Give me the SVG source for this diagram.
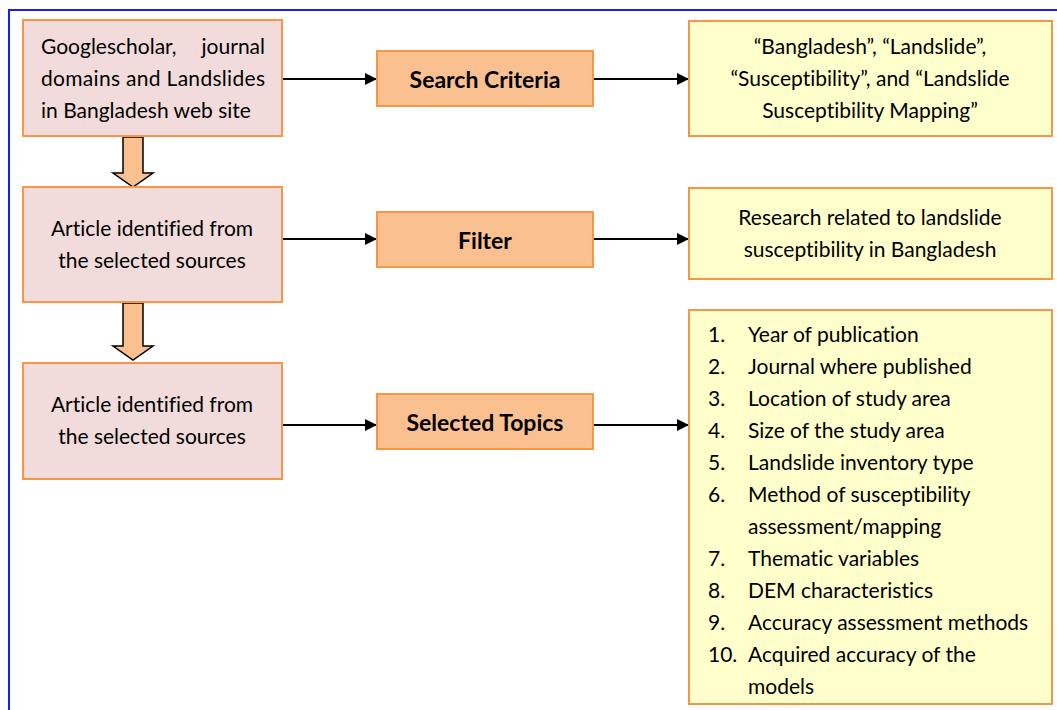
<svg xmlns="http://www.w3.org/2000/svg" width="1057" height="710" viewBox="0 0 1057 710">
<defs>
<style>
.t{font-family:Lato,"Open Sans","Liberation Sans",sans-serif;font-size:21px;fill:#000;font-variant-ligatures:none}
.b{font-weight:bold;font-size:23px}
.src{fill:#F2DCDB;stroke:#F79646;stroke-width:2}
.mid{fill:#FAC090;stroke:#F79646;stroke-width:2}
.res{fill:#FFFFCC;stroke:#F79646;stroke-width:2}
.con{stroke:#000;stroke-width:2;fill:none;marker-end:url(#ah)}
.blk{fill:#FAC090;stroke:#000;stroke-width:1.5;stroke-linejoin:miter}
</style>
<marker id="ah" markerWidth="12" markerHeight="12" refX="12" refY="6" orient="auto" markerUnits="userSpaceOnUse">
<path d="M0,0 L12,6 L0,12 Z" fill="#000"/>
</marker>
</defs>
<rect x="9" y="10" width="1080" height="720" fill="#fff" stroke="#1A1AFF" stroke-width="2"/>

<g id="connectors">
<line class="con" x1="282" y1="79" x2="377" y2="79"/>
<line class="con" x1="593" y1="79" x2="689" y2="79"/>
<line class="con" x1="282" y1="239" x2="377" y2="239"/>
<line class="con" x1="593" y1="239" x2="689" y2="239"/>
<line class="con" x1="282" y1="425" x2="377" y2="425"/>
<line class="con" x1="593" y1="425" x2="689" y2="425"/>
<path class="blk" d="M123,137 H143 V173 H153 L133,187 L113,173 H123 Z"/>
<path class="blk" d="M123,303 H143 V346 H153 L133,360 L113,346 H123 Z"/>
</g>

<g id="source1">
<rect class="src" x="23" y="20" width="259" height="116"/>
<text class="t" x="41" y="54">Googlescholar,</text>
<text class="t" x="265" y="54" text-anchor="end">journal</text>
<text class="t" x="41" y="86" textLength="224" lengthAdjust="spacing">domains and Landslides</text>
<text class="t" x="41" y="118">in Bangladesh web site</text>
</g>
<g id="source2">
<rect class="src" x="23" y="187" width="259" height="115"/>
<text class="t" x="152" y="236" text-anchor="middle">Article identified from</text>
<text class="t" x="152" y="268" text-anchor="middle">the selected sources</text>
</g>
<g id="source3">
<rect class="src" x="23" y="363" width="259" height="116"/>
<text class="t" x="152" y="412" text-anchor="middle">Article identified from</text>
<text class="t" x="152" y="444" text-anchor="middle">the selected sources</text>
</g>

<g id="search">
<rect class="mid" x="377" y="51" width="216" height="55"/>
<text class="t b" x="485" y="88" text-anchor="middle">Search Criteria</text>
</g>
<g id="filter">
<rect class="mid" x="377" y="212" width="216" height="55"/>
<text class="t b" x="485" y="249" text-anchor="middle">Filter</text>
</g>
<g id="topics">
<rect class="mid" x="377" y="394" width="216" height="55"/>
<text class="t b" x="485" y="431" text-anchor="middle">Selected Topics</text>
</g>

<g id="keywords">
<rect class="res" x="689" y="21" width="363" height="115"/>
<text class="t" x="870" y="54" text-anchor="middle">“Bangladesh”, “Landslide”,</text>
<text class="t" x="870" y="86" text-anchor="middle">“Susceptibility”, and “Landslide</text>
<text class="t" x="870" y="118" text-anchor="middle">Susceptibility Mapping”</text>
</g>
<g id="research">
<rect class="res" x="689" y="188" width="363" height="91"/>
<text class="t" x="870" y="225" text-anchor="middle">Research related to landslide</text>
<text class="t" x="870" y="257" text-anchor="middle">susceptibility in Bangladesh</text>
</g>
<g id="topiclist">
<rect class="res" x="689" y="310" width="363" height="394"/>
<text class="t" x="708" y="342">1.</text><text class="t" x="748" y="342">Year of publication</text>
<text class="t" x="708" y="374">2.</text><text class="t" x="748" y="374">Journal where published</text>
<text class="t" x="708" y="406">3.</text><text class="t" x="748" y="406">Location of study area</text>
<text class="t" x="708" y="438">4.</text><text class="t" x="748" y="438">Size of the study area</text>
<text class="t" x="708" y="470">5.</text><text class="t" x="748" y="470">Landslide inventory type</text>
<text class="t" x="708" y="502">6.</text><text class="t" x="748" y="502">Method of susceptibility</text>
<text class="t" x="748" y="534">assessment/mapping</text>
<text class="t" x="708" y="566">7.</text><text class="t" x="748" y="566">Thematic variables</text>
<text class="t" x="708" y="598">8.</text><text class="t" x="748" y="598">DEM characteristics</text>
<text class="t" x="708" y="630">9.</text><text class="t" x="748" y="630">Accuracy assessment methods</text>
<text class="t" x="708" y="662">10.</text><text class="t" x="748" y="662">Acquired accuracy of the</text>
<text class="t" x="748" y="694">models</text>
</g>
</svg>
